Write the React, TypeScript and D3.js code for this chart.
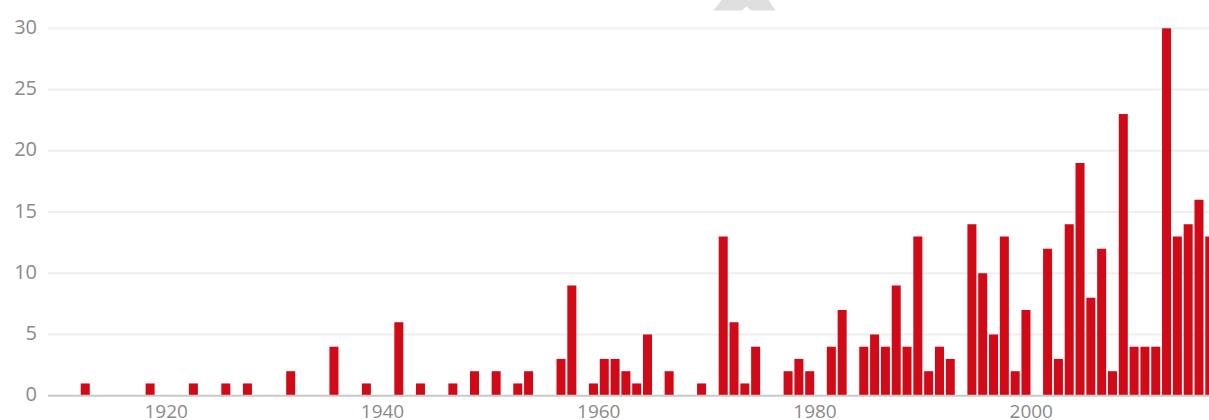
import React, { useRef, useEffect } from 'react'
import { select, scaleLinear } from 'd3'

const years = [
  1912, 1918, 1922, 1925, 1927, 1931, 1935, 1938, 1941, 1943, 1946, 1948, 1950, 1952, 1953,
  1956, 1957, 1959, 1960, 1961, 1962, 1963, 1964, 1966, 1969, 1971, 1972, 1973, 1974,
  1977, 1978, 1979, 1981, 1982, 1984, 1985, 1986, 1987, 1988, 1989, 1990, 1991, 1992,
  1994, 1995, 1996, 1997, 1998, 1999, 2001, 2002, 2003, 2004, 2005, 2006, 2007, 2008,
  2009, 2010, 2011, 2012, 2013, 2014, 2015, 2016,
]
const counts = [
  1, 1, 1, 1, 1, 2, 4, 1, 6, 1, 1, 2, 2, 1, 2,
  3, 9, 1, 3, 3, 2, 1, 5, 2, 1, 13, 6, 1, 4,
  2, 3, 2, 4, 7, 4, 5, 4, 9, 4, 13, 2, 4, 3,
  14, 10, 5, 13, 2, 7, 12, 3, 14, 19, 8, 12, 2, 23,
  4, 4, 4, 30, 13, 14, 16, 13,
]
const yTicks = [0, 5, 10, 15, 20, 25, 30]
const xTicks = [1920, 1940, 1960, 1980, 2000]

export default function App() {
  const canvas = useRef<SVGSVGElement>(null)

  const width = 1209
  const height = 420

  useEffect(() => {
    const svg = select(canvas.current)
    svg.selectAll('*').remove()

    const x = scaleLinear().domain([1909, 2017]).range([48.3, 1216.1])
    const y = scaleLinear().domain([0, 30]).range([395.7, 28.3])

    // faint watermark at the top
    svg.append('path')
      .attr('d', 'M721.5,0 L768.5,0 L775.5,10.5 L751.5,10.5 L746.5,6.5 L741.5,10.5 L713.5,10.5 Z')
      .attr('fill', '#dedede')

    // grid
    svg.append('g').selectAll('line').data(yTicks.filter(d => d > 0)).enter().append('line')
      .attr('x1', 48).attr('x2', width)
      .attr('y1', d => y(d)).attr('y2', d => y(d))
      .attr('stroke', '#efefef').attr('stroke-width', 2)

    svg.append('g').selectAll('text').data(yTicks).enter().append('text')
      .attr('x', 37).attr('y', d => y(d) - 2)
      .attr('text-anchor', 'end').attr('dominant-baseline', 'central')
      .attr('font-family', '"Open Sans", sans-serif').attr('font-size', 20)
      .attr('fill', '#8a8a8a')
      .text(d => d)

    // bars
    const barW = x(1910) - x(1909) - 1.8
    svg.append('g').selectAll('rect').data(years).enter().append('rect')
      .attr('x', d => x(d))
      .attr('width', barW)
      .attr('y', (d, i) => y(counts[i]))
      .attr('height', (d, i) => y(0) - y(counts[i]))
      .attr('fill', '#d00a16')

    // baseline
    svg.append('line')
      .attr('x1', 48).attr('x2', width)
      .attr('y1', y(0)).attr('y2', y(0))
      .attr('stroke', '#c8c8c8').attr('stroke-width', 2)

    svg.append('g').selectAll('text').data(xTicks).enter().append('text')
      .attr('x', d => x(d) - 1).attr('y', 418)
      .attr('text-anchor', 'middle')
      .attr('font-family', '"Open Sans", sans-serif').attr('font-size', 19)
      .attr('fill', '#8a8a8a')
      .text(d => d)
  })

  return (
    <svg ref={canvas} width={width} height={height} style={{ position: 'absolute', left: 0, top: 0 }} />
  )
}
